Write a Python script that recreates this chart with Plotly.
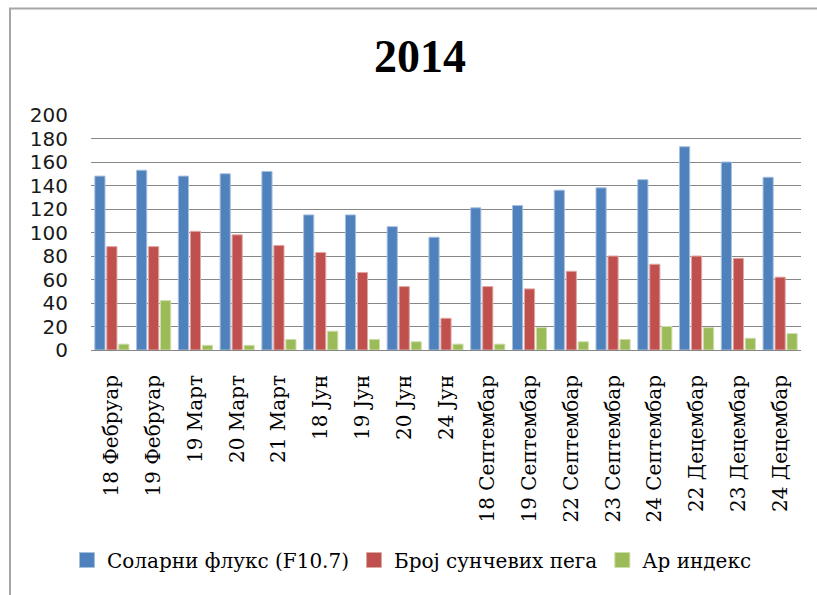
import plotly.graph_objects as go

categories = ["18 Фебруар", "19 Фебруар", "19 Март", "20 Март", "21 Март",
              "18 Јун", "19 Јун", "20 Јун", "24 Јун",
              "18 Септембар", "19 Септембар", "22 Септембар", "23 Септембар", "24 Септембар",
              "22 Децембар", "23 Децембар", "24 Децембар"]
solar_flux = [148, 153, 148, 150, 152, 115, 115, 105, 96, 121, 123, 136, 138, 145, 173, 160, 147]
sunspots = [88, 88, 101, 98, 89, 83, 66, 54, 27, 54, 52, 67, 80, 73, 80, 78, 62]
ap_index = [5, 42, 4, 4, 9, 16, 9, 7, 5, 5, 19, 7, 9, 20, 19, 10, 14]
series_names = ["Соларни флукс (F10.7)", "Број сунчевих пега", "Ар индекс"]
colors = ["#4F81BD", "#C0504D", "#9BBB59"]
edges = ["#A7C0DE", "#DFA8A6", "#CDDDAC"]

W, H = 817, 595
L, R, T, B = 91, 801, 115, 350

fig = go.Figure()
for name, vals, c, e in zip(series_names, [solar_flux, sunspots, ap_index], colors, edges):
    fig.add_trace(go.Bar(x=categories, y=vals, name=name, showlegend=False, legendgroup=name,
                         marker=dict(color=c, line=dict(color=e, width=1))))
# legend proxies (square swatches like the original)
for name, c, e in zip(series_names, colors, edges):
    fig.add_trace(go.Scatter(x=[None], y=[None], mode="markers", name=name, legendgroup=name,
                             marker=dict(symbol="square", size=15, color=c, line=dict(color=e, width=1))))

def px_x(p):
    return (p - L) / (R - L)

def px_y(p):
    return (B - p) / (B - T)

fig.add_shape(type="rect", xref="paper", yref="paper",
              x0=px_x(10), x1=px_x(830), y0=px_y(610), y1=px_y(8.5),
              line=dict(color="#A6A6A6", width=2), fillcolor="rgba(0,0,0,0)", layer="below")

fig.update_layout(
    width=W, height=H,
    margin=dict(l=L, r=W - R, t=T, b=H - B, pad=0),
    paper_bgcolor="white", plot_bgcolor="white",
    barmode="group", bargap=0.14, bargroupgap=0.15,
    title=dict(text="<b>2014</b>", x=420 / W, xanchor="center", xref="container",
               y=1 - 56 / H, yanchor="middle", yref="container",
               font=dict(family="Liberation Serif", size=46, color="black")),
    showlegend=True,
    legend=dict(orientation="h", x=px_x(412), xanchor="center", y=px_y(560), yanchor="middle",
                font=dict(family="DejaVu Serif", size=20, color="black"),
                itemclick=False, traceorder="normal", bgcolor="rgba(0,0,0,0)"),
    xaxis=dict(tickangle=-90, showgrid=False, showline=False, ticks="",
               tickfont=dict(family="DejaVu Serif", size=20, color="black"),
               ticklabelstandoff=20, fixedrange=True),
    yaxis=dict(range=[0, 200], dtick=20, tick0=0, showgrid=True, gridcolor="#868686", gridwidth=1,
               zeroline=True, zerolinecolor="#868686", zerolinewidth=1,
               showline=False, ticks="",
               tickfont=dict(family="DejaVu Sans", size=20, color="#1a1a1a"),
               ticklabelstandoff=22, fixedrange=True),
)

fig.write_html("out.html", config={"displayModeBar": False, "staticPlot": True},
               post_script="document.documentElement.style.margin='0';document.body.style.margin='0';document.body.style.overflow='hidden';")
